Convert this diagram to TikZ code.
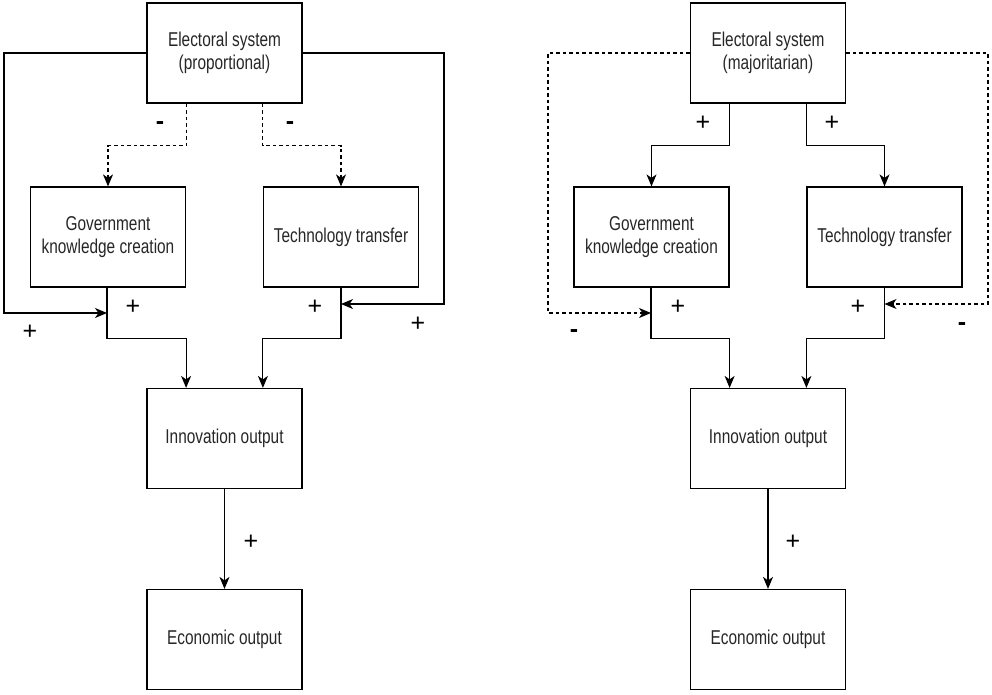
\documentclass[tikz,border=0pt]{standalone}
\usepackage{fontspec}
\setmainfont{Liberation Sans}
\newfontfamily\boxfont[FakeStretch=0.77]{Liberation Sans}
\usetikzlibrary{arrows.meta}

\tikzset{
  blk/.style={draw, line width=1.2pt, minimum width=155pt, minimum height=100pt,
    inner sep=2pt, align=center, font=\boxfont\fontsize{20}{23}\selectfont, text=black!85},
  link/.style={line width=1.1pt, -{Stealth[length=12pt,width=10pt,inset=3.5pt]}},
  neg/.style={link, dash pattern=on 3.5pt off 3pt},
  sgn/.style={font=\fontsize{25}{25}\selectfont, inner sep=0pt},
  msgn/.style={font=\bfseries\fontsize{25}{25}\selectfont, inner sep=0pt}
}

\begin{document}
\begin{tikzpicture}[x=1pt, y=-1pt]
\useasboundingbox (0,0) rectangle (992,695);

% ---------------- proportional system ----------------
\node[blk] (elP)  at (224.5,53)    {Electoral system\\(proportional)};
\node[blk] (gkP)  at (108,237)     {Government\\knowledge creation};
\node[blk] (ttP)  at (341,237)     {Technology transfer};
\node[blk] (inP)  at (224.5,438.5) {Innovation output};
\node[blk] (ecP)  at (224.5,639.5) {Economic output};

\coordinate (jgP) at (107,313);
\coordinate (jtP) at (341,304);

\draw[neg] (elP.south -| gkP.east) -- ++(0,42) -| (gkP.north);
\draw[neg] (elP.south -| ttP.west) -- ++(0,42) -| (ttP.north);
\draw[link] (elP.west) -| (4,313) -- (jgP);
\draw[link] (elP.east) -| (444,304) -- (jtP);
\draw[link] (gkP.south -| jgP) -- ++(0,51) -| (inP.north -| gkP.east);
\draw[link] (ttP.south -| jtP) -- ++(0,51) -| (inP.north -| ttP.west);
\draw[link] (inP) -- (ecP);

\node[msgn] (m1P) at (160,126) {-};
\node[msgn] (m2P) at (290,126) {-};
\node[sgn] (p1P) at (133,307) {+};
\node[sgn] (p2P) at (315,307) {+};
\node[sgn] (p3P) at (30,332)  {+};
\node[sgn] (p4P) at (418,324) {+};
\node[sgn] (p5P) at (251,542) {+};

% ---------------- majoritarian system ----------------
\node[blk] (elM)  at (768,53)      {Electoral system\\(majoritarian)};
\node[blk] (gkM)  at (651.5,237)   {Government\\knowledge creation};
\node[blk] (ttM)  at (884.5,237)   {Technology transfer};
\node[blk] (inM)  at (768,438.5)   {Innovation output};
\node[blk] (ecM)  at (768,639.5)   {Economic output};

\coordinate (jgM) at (651,313);
\coordinate (jtM) at (884.5,304);

\draw[link] (elM.south -| gkM.east) -- ++(0,42) -| (gkM.north);
\draw[link] (elM.south -| ttM.west) -- ++(0,42) -| (ttM.north);
\draw[neg] (elM.west) -| (548,313) -- (jgM);
\draw[neg] (elM.east) -| (988,304) -- (jtM);
\draw[link] (gkM.south -| jgM) -- ++(0,51) -| (inM.north -| gkM.east);
\draw[link] (ttM.south -| jtM) -- ++(0,51) -| (inM.north -| ttM.west);
\draw[link] (inM) -- (ecM);

\node[sgn] (p1M) at (703,123) {+};
\node[sgn] (p2M) at (832,123) {+};
\node[sgn] (p3M) at (678,307) {+};
\node[sgn] (p4M) at (858,307) {+};
\node[msgn] (m1M) at (574,334) {-};
\node[msgn] (m2M) at (962,327) {-};
\node[sgn] (p5M) at (793,542) {+};
\end{tikzpicture}
\end{document}
